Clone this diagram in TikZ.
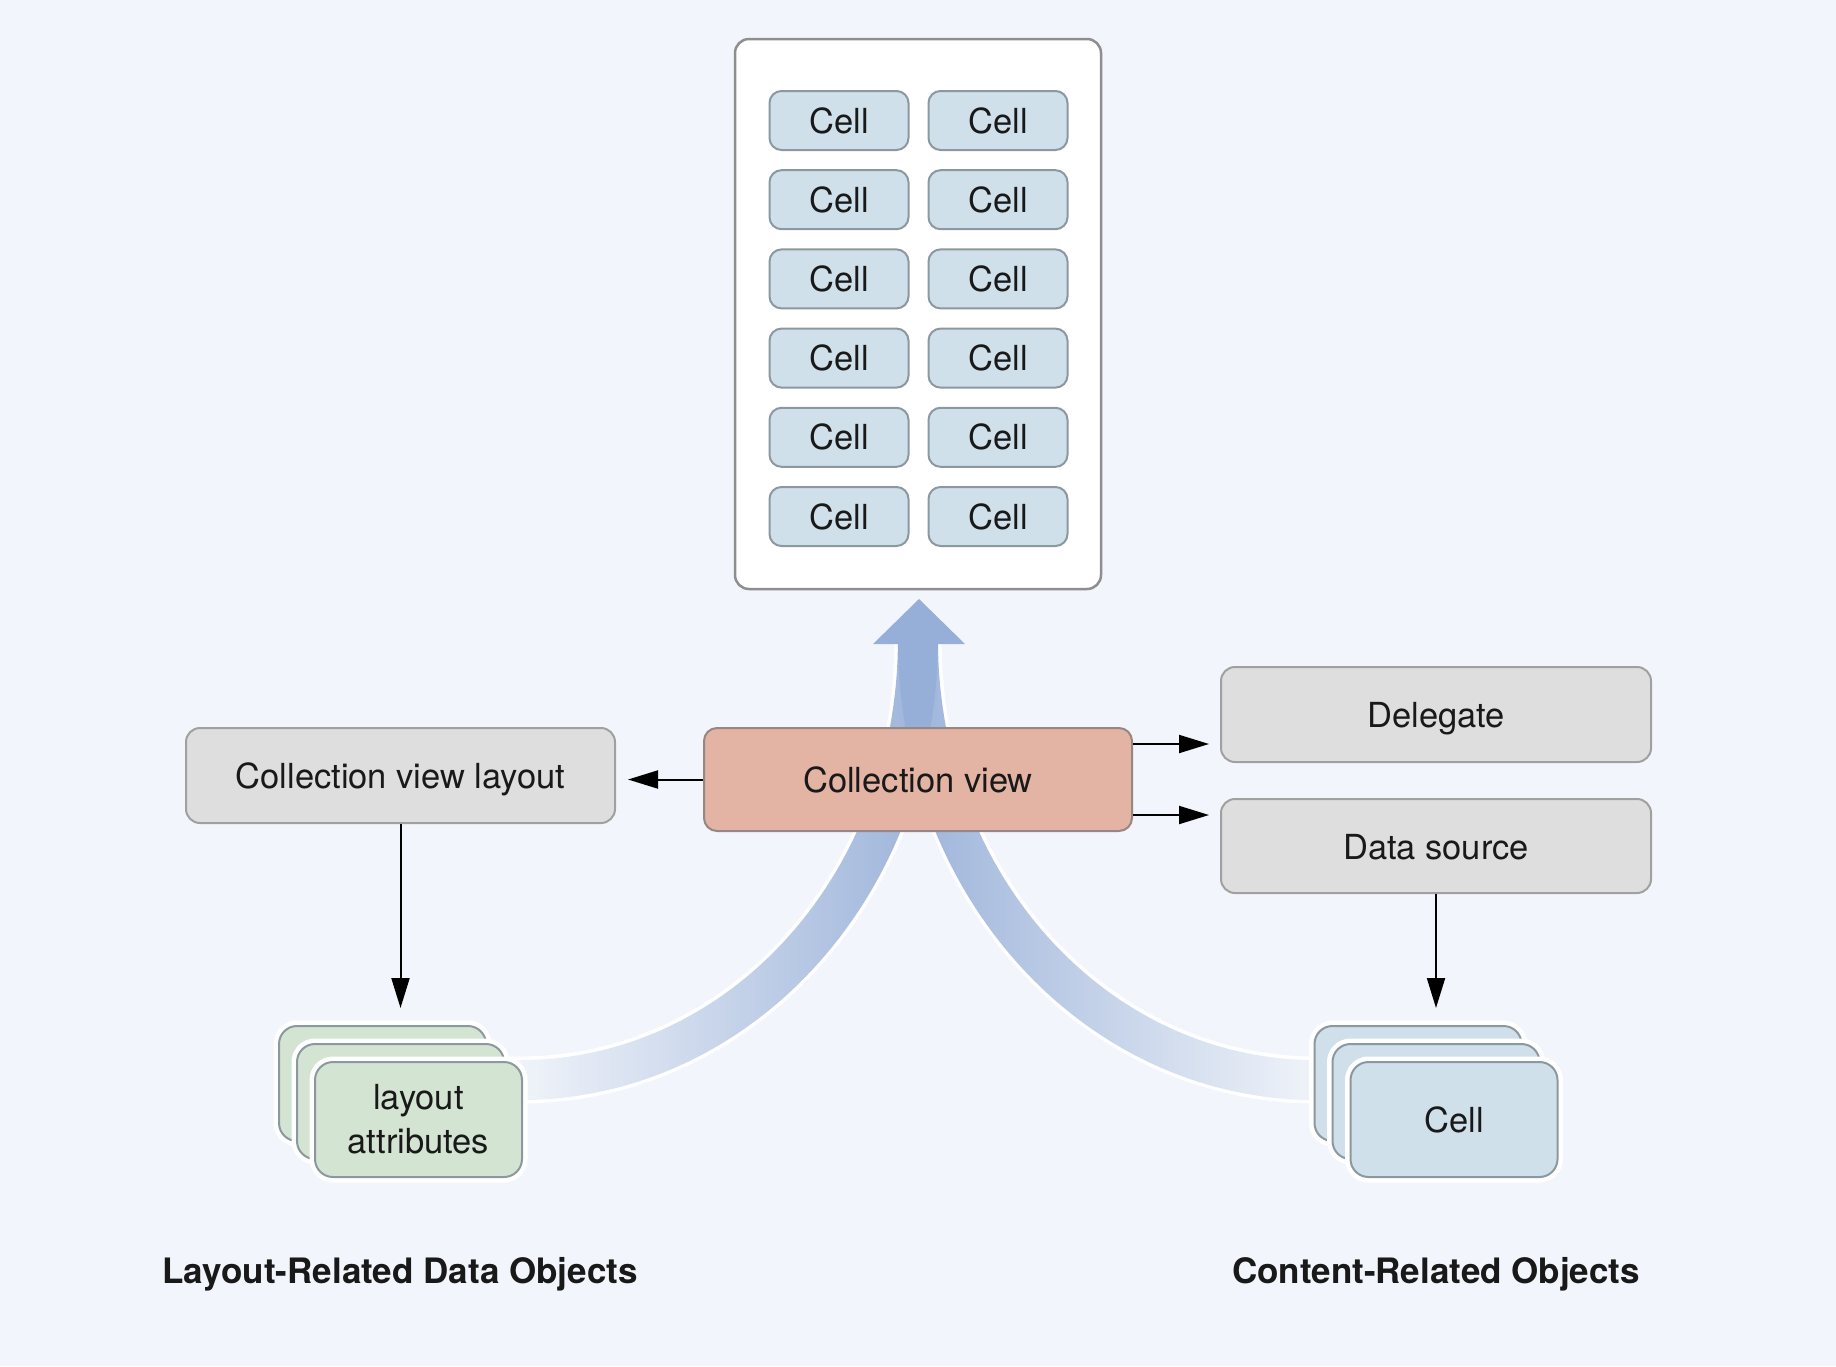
\documentclass[tikz,border=0pt]{standalone}
\usepackage{fontspec}
\setmainfont{TeX Gyre Heros}
\usetikzlibrary{arrows.meta,calc,fadings}

\definecolor{bg}{RGB}{242,245,252}
\definecolor{cellfill}{RGB}{207,224,234}
\definecolor{cellborder}{RGB}{140,152,160}
\definecolor{cvfill}{RGB}{227,179,163}
\definecolor{cvborder}{RGB}{150,135,130}
\definecolor{grayfill}{RGB}{222,222,222}
\definecolor{grayborder}{RGB}{160,160,160}
\definecolor{greenfill}{RGB}{211,228,211}
\definecolor{flowblue}{RGB}{150,175,216}
\definecolor{txt}{RGB}{25,25,25}

\tikzfading[name=fadeL, left color=transparent!100, middle color=transparent!72, right color=transparent!5]
\tikzfading[name=fadeR, left color=transparent!5, middle color=transparent!72, right color=transparent!100]

\begin{document}
\begin{tikzpicture}[x=1pt,y=-1pt,
  every node/.style={font=\fontsize{34.5}{44}\selectfont, text=txt, inner sep=0pt},
  cellbox/.style={draw=cellborder, fill=cellfill, line width=2pt, rounded corners=12pt,
    minimum width=139pt, minimum height=59pt},
  graybox/.style={draw=grayborder, fill=grayfill, line width=2pt, rounded corners=14pt,
    minimum width=430pt, minimum height=95pt, text height=33pt, text depth=7pt},
  cvbox/.style={draw=cvborder, fill=cvfill, line width=2pt, rounded corners=13pt,
    minimum width=428pt, minimum height=103pt, text height=33pt, text depth=7pt},
  card/.style={draw=cellborder, line width=2pt, rounded corners=18pt,
    minimum width=207pt, minimum height=115pt, preaction={draw=white, line width=11pt}},
  arr/.style={draw=black, line width=2pt, -{Triangle[length=30pt,width=18pt]}},
  halo/.style={draw=white, line width=47pt},
  flow/.style={draw=flowblue, line width=40pt},
  grouplabel/.style={font=\bfseries\fontsize{35}{42}\selectfont}
]
% background and bounds
\fill[bg] (0,0) rectangle (1836,1366);
\useasboundingbox (0,0) rectangle (1836,1366);

% ---- collection container with cells ----
\node[draw={rgb,255:red,142;green,142;blue,142}, fill=white, line width=2.5pt,
  rounded corners=14pt, minimum width=366pt, minimum height=550pt] (container) at (918,314) {};
\foreach \r in {0,...,5}{
  \node[cellbox] (cL\r) at (839,{120.5+79.2*\r}) {Cell};
  \node[cellbox] (cR\r) at (998,{120.5+79.2*\r}) {Cell};
}

% ---- flow bands ----
\coordinate (bandL) at (470,1080);
\coordinate (bandR) at (1366,1080);
\coordinate (merge) at (918,640);
\draw[halo] (bandL) -- (520,1080) .. controls (740,1080) and (918,885) .. (merge);
\draw[halo] (bandR) -- (1316,1080) .. controls (1096,1080) and (918,885) .. (merge);
\draw[flow, path fading=fadeL] (bandL) -- (520,1080) .. controls (740,1080) and (918,885) .. (merge);
\draw[flow, path fading=fadeR] (bandR) -- (1316,1080) .. controls (1096,1080) and (918,885) .. (merge);
\fill[flowblue] (873,644) -- (965,644) -- (919,599) -- cycle;

% ---- main boxes ----
\node[cvbox] (cv) at (918,779.5) {Collection view};
\node[graybox, minimum width=429pt] (cvl) at (400.5,775.5) {Collection view layout};
\node[graybox] (del) at (1436,714.5) {Delegate};
\node[graybox, minimum height=94pt] (ds) at (1436,846) {Data source};

% ---- stacks ----
\node[card, fill=greenfill] (la3) at (382.5,1083.5) {};
\node[card, fill=greenfill] (la2) at (400.5,1101.5) {};
\node[card, fill=greenfill, align=center] (la) at (418.5,1119.5) {layout\\attributes};

\node[card, fill=cellfill] (cs3) at (1418,1083.5) {};
\node[card, fill=cellfill] (cs2) at (1436,1101.5) {};
\node[card, fill=cellfill] (cs) at (1454,1119.5) {Cell};

% ---- connectors ----
\coordinate (d1) at ($(cv.east)+(0,-35.5)$);
\coordinate (d2) at ($(cv.east)+(0,35.5)$);
\draw[arr, shorten >=12pt] (cv.west) -- (cv.west -| cvl.east);
\draw[arr, shorten >=11pt] (d1) -- (d1 -| del.west);
\draw[arr, shorten >=11pt] (d2) -- (d2 -| ds.west);
\draw[arr, shorten >=17pt] (cvl.south) -- (cvl.south |- la3.north);
\draw[arr, shorten >=17pt] (ds.south) -- (ds.south |- cs3.north);

% ---- group labels ----
\node[grouplabel] (lblL) at (400,1274) {Layout-Related Data Objects};
\node[grouplabel] (lblR) at (1436,1274) {Content-Related Objects};
\end{tikzpicture}
\end{document}
